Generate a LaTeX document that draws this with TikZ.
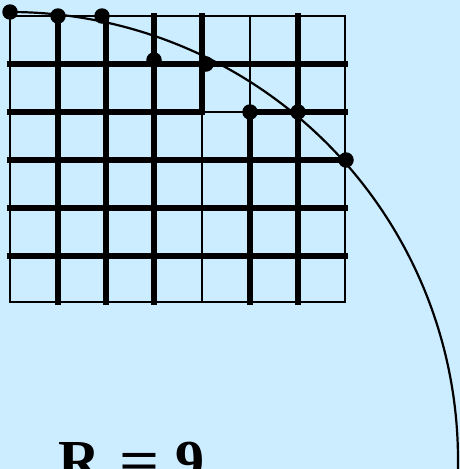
\documentclass[tikz,border=0pt]{standalone}
\usepackage{fontspec}
\usepackage{graphicx}
\setmainfont{Liberation Serif}
\definecolor{bgblue}{RGB}{204,236,255}
\tikzset{
  thickline/.style={line width=5.2pt, line cap=rect},
  thinline/.style={line width=2.6pt, line cap=rect},
  border/.style={line width=2.8pt},
  dot/.style={circle, fill=black, inner sep=0pt, minimum size=15.5pt},
  arcline/.style={line width=2.2pt},
}
\begin{document}
\begin{tikzpicture}[x=1pt,y=-1pt]
\fill[bgblue] (0,0) rectangle (460,469);
\useasboundingbox (0,0) rectangle (460,469);
% interior vertical lines
\foreach \x in {58,106,154,298} \draw[thickline] (\x,16) -- (\x,302);
\draw[thickline] (202,16) -- (202,112);
\draw[thinline] (202,112) -- (202,302);
\draw[thinline] (250,16) -- (250,112);
\draw[thickline] (250,112) -- (250,302);
% interior horizontal lines
\foreach \y in {64,160,208,256} \draw[thickline] (10,\y) -- (345,\y);
\draw[thickline] (10,112) -- (202,112);
\draw[thinline] (202,112) -- (250,112);
\draw[thickline] (250,112) -- (345,112);
% border
\draw[border] (10,16) rectangle (345,302);
% arc
\draw[arcline] (10,12) arc[start angle=-90, end angle=4, radius=448];
% dots
\node[dot] (p1) at (10,12) {};
\node[dot] (p2) at (58,16) {};
\node[dot] (p3) at (102,16) {};
\node[dot] (p4) at (154,60) {};
\node[dot] (p5) at (206,64) {};
\node[dot] (p6) at (250,112) {};
\node[dot] (p7) at (298,112) {};
\node[dot] (p8) at (346,160) {};
% label
\node[anchor=base west, inner sep=0pt, font=\fontsize{58}{58}\selectfont\bfseries] (lbl) at (58,480) {R\hspace{0.33em}\scalebox{1.22}[1]{=}\hspace{0.28em}9};
\end{tikzpicture}
\end{document}
